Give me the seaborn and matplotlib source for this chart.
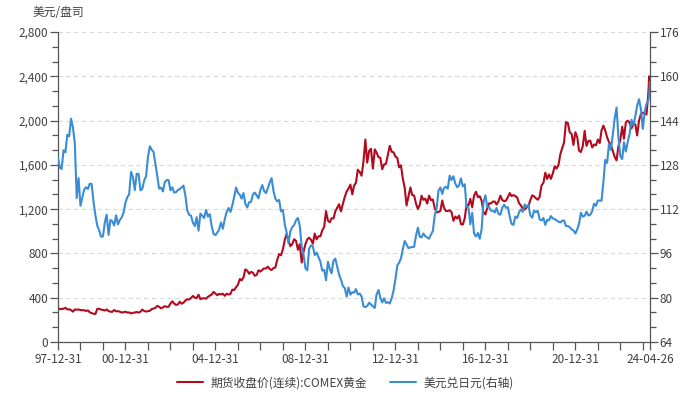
import pandas as pd
import matplotlib.pyplot as plt
from matplotlib.ticker import MultipleLocator, FuncFormatter
import seaborn as sns

# 月末数据 1997-12 ~ 2024-03, 之后补 2024-04-12 和 2024-04-26 两个点
gold = [
    290,
    300, 297, 301, 309, 294, 296, 288, 274, 294, 292, 294, 288,
    288, 287, 280, 286, 268, 261, 255, 254, 299, 300, 292, 290,
    284, 294, 279, 274, 272, 289, 277, 278, 274, 265, 270, 273,
    266, 267, 258, 264, 266, 271, 266, 273, 293, 280, 275, 279,
    282, 297, 302, 309, 326, 318, 304, 313, 324, 317, 318, 348,
    368, 348, 335, 339, 364, 346, 355, 375, 386, 384, 398, 416,
    400, 397, 427, 387, 394, 395, 391, 408, 418, 429, 453, 438,
    422, 435, 429, 436, 417, 436, 429, 434, 473, 470, 495, 518,
    569, 556, 584, 656, 645, 616, 633, 626, 598, 606, 648, 636,
    652, 665, 663, 681, 659, 650, 667, 673, 743, 794, 783, 838,
    923, 975, 917, 865, 885, 928, 914, 833, 884, 718, 816, 884,
    928, 942, 924, 888, 979, 927, 955, 955, 1008, 1040, 1182, 1097,
    1081, 1118, 1115, 1180, 1212, 1244, 1180, 1248, 1309, 1359, 1386, 1421,
    1333, 1411, 1439, 1556, 1536, 1502, 1628, 1829, 1620, 1725, 1746, 1566,
    1740, 1711, 1669, 1664, 1560, 1604, 1610, 1692, 1772, 1719, 1714, 1675,
    1663, 1578, 1596, 1476, 1392, 1234, 1313, 1396, 1327, 1323, 1250, 1202,
    1240, 1321, 1284, 1295, 1250, 1322, 1282, 1287, 1210, 1171, 1175, 1184,
    1278, 1213, 1183, 1183, 1190, 1172, 1095, 1133, 1115, 1142, 1065, 1061,
    1118, 1238, 1233, 1293, 1217, 1322, 1357, 1309, 1317, 1276, 1173, 1152,
    1212, 1252, 1251, 1268, 1269, 1242, 1269, 1322, 1284, 1271, 1277, 1309,
    1345, 1318, 1327, 1319, 1305, 1254, 1233, 1206, 1196, 1215, 1226, 1283,
    1325, 1316, 1298, 1285, 1311, 1413, 1437, 1529, 1473, 1514, 1473, 1523,
    1588, 1567, 1597, 1694, 1751, 1800, 1986, 1978, 1895, 1879, 1780, 1895,
    1850, 1729, 1716, 1768, 1907, 1771, 1817, 1818, 1757, 1784, 1776, 1829,
    1797, 1909, 1954, 1911, 1848, 1807, 1782, 1726, 1672, 1640, 1768, 1826,
    1945, 1836, 1986, 1999, 1982, 1929, 1970, 1966, 1866, 2001, 2057, 2071,
    2067, 2054, 2254,
    2400, 2347,
]

usdjpy = [
    130.5,
    127.0, 126.5, 133.3, 132.5, 138.9, 138.3, 144.7, 141.4, 135.8, 116.0, 123.2, 113.2,
    116.3, 119.0, 119.9, 119.3, 121.2, 121.1, 114.6, 109.7, 106.0, 104.3, 102.0, 102.2,
    107.3, 110.0, 102.7, 108.1, 107.6, 106.1, 109.8, 106.5, 108.1, 109.0, 110.8, 114.4,
    116.4, 117.3, 125.5, 123.6, 118.9, 124.7, 124.8, 118.8, 119.3, 122.4, 123.9, 131.0,
    134.7, 133.5, 132.7, 128.5, 124.0, 119.4, 119.8, 118.4, 121.8, 122.5, 122.5, 118.8,
    119.9, 118.0, 118.1, 118.9, 119.3, 119.8, 120.5, 116.8, 111.5, 110.0, 109.6, 107.1,
    105.9, 109.1, 104.2, 110.4, 109.6, 108.8, 111.7, 109.3, 110.2, 105.8, 103.1, 102.6,
    103.6, 104.6, 107.2, 104.9, 108.4, 110.9, 112.4, 111.0, 113.3, 116.4, 119.8, 117.9,
    117.2, 115.8, 117.8, 113.9, 112.6, 114.5, 114.6, 117.3, 118.0, 116.9, 115.9, 119.0,
    120.7, 118.6, 117.8, 119.5, 121.7, 123.2, 118.6, 115.8, 114.8, 115.3, 111.2, 111.7,
    106.4, 103.6, 99.7, 104.0, 105.5, 106.2, 108.0, 108.8, 106.0, 98.5, 95.5, 90.6,
    89.9, 97.6, 98.9, 98.6, 95.4, 96.3, 94.7, 93.0, 89.8, 90.1, 86.3, 93.0,
    90.3, 88.8, 93.4, 94.1, 91.2, 88.4, 86.5, 84.2, 83.5, 80.4, 83.7, 81.1,
    82.0, 81.8, 83.1, 81.2, 81.5, 80.5, 76.9, 76.6, 77.0, 78.2, 77.6, 76.9,
    76.3, 81.2, 82.8, 80.0, 78.3, 79.8, 78.1, 78.4, 77.9, 79.8, 82.5, 86.7,
    91.7, 92.6, 94.2, 97.5, 100.5, 99.2, 97.9, 98.2, 98.3, 98.4, 102.4, 105.3,
    102.0, 101.8, 103.2, 102.2, 101.8, 101.3, 102.8, 104.1, 109.7, 112.3, 118.7, 119.8,
    117.5, 119.6, 120.1, 119.4, 124.1, 122.5, 123.9, 121.2, 119.9, 120.6, 123.1, 120.2,
    121.0, 112.7, 112.6, 106.5, 110.7, 103.2, 102.1, 103.4, 101.3, 104.8, 114.5, 117.0,
    112.8, 112.8, 111.4, 111.5, 110.8, 112.4, 110.3, 110.0, 112.5, 113.6, 112.5, 112.7,
    109.2, 106.7, 106.3, 109.3, 108.8, 110.8, 111.9, 111.0, 113.7, 112.9, 113.5, 109.7,
    108.9, 111.4, 110.9, 111.4, 108.3, 107.9, 108.8, 106.3, 108.1, 108.0, 109.5, 108.6,
    108.4, 107.9, 107.5, 107.2, 107.8, 107.9, 105.9, 105.9, 105.5, 104.7, 104.3, 103.2,
    104.7, 106.6, 110.7, 109.3, 109.6, 111.1, 109.7, 110.0, 111.3, 114.0, 113.2, 115.1,
    115.1, 115.0, 121.7, 129.8, 128.7, 135.7, 133.3, 138.9, 144.7, 148.7, 138.1, 131.1,
    130.1, 136.2, 132.8, 136.3, 139.3, 144.3, 142.3, 145.5, 149.4, 151.7, 148.2, 141.0,
    147.2, 150.0, 151.3,
    153.2, 158.0,
]

tail_dates = ['2024-04-12', '2024-04-26']

tick_labels = ['97-12-31', '00-12-31', '04-12-31', '08-12-31',
               '12-12-31', '16-12-31', '20-12-31', '24-04-26']

dates = list(pd.date_range('1997-12-31', '2024-03-31', freq='ME')) + [pd.Timestamp(d) for d in tail_dates]
df = pd.DataFrame({'date': dates, 'gold': gold, 'usdjpy': usdjpy})

sns.set_style('white')
plt.rcParams['font.family'] = ['Noto Sans CJK SC', 'DejaVu Sans']

red = '#B00B1E'
blue = '#3A8DD4'
txt = '#404040'
axc = '#555555'

fig = plt.figure(figsize=(6.91, 3.99), dpi=100)
ax = fig.add_axes([58 / 691, 1 - 342 / 399, (650 - 58) / 691, (342 - 32) / 399])
ax2 = ax.twinx()

sns.lineplot(data=df, x='date', y='gold', ax=ax, color=red, linewidth=1.5,
             label='期货收盘价(连续):COMEX黄金', legend=False)
sns.lineplot(data=df, x='date', y='usdjpy', ax=ax2, color=blue, linewidth=1.5,
             label='美元兑日元(右轴)', legend=False)

# 坐标轴范围与刻度
ax.set_xlim(df['date'].iloc[0], df['date'].iloc[-1])
ax.set_ylim(0, 2800)
ax2.set_ylim(64, 176)
ax.yaxis.set_major_locator(MultipleLocator(400))
ax.yaxis.set_minor_locator(MultipleLocator(400 / 3))
ax2.yaxis.set_major_locator(MultipleLocator(16))
ax2.yaxis.set_minor_locator(MultipleLocator(16 / 3))
ax.yaxis.set_major_formatter(FuncFormatter(lambda v, p: f'{v:,.0f}'))

xticks = list(pd.date_range('1997-12-31', '2023-12-31', freq='YE')) + [pd.Timestamp('2024-04-26')]
xlabels = []
for t in xticks:
    s = t.strftime('%y-%m-%d')
    xlabels.append(s if s in tick_labels else '')
ax.set_xticks(xticks)
ax.set_xticklabels(xlabels)

ax.grid(axis='y', color='#d9d9d9', linestyle=(0, (4, 3)), linewidth=0.8)
ax.grid(axis='x', visible=False)
ax2.grid(False)

for a in (ax, ax2):
    a.set_xlabel('')
    a.set_ylabel('')
    a.spines['top'].set_visible(False)
    for s in ('left', 'right', 'bottom'):
        a.spines[s].set_color(axc)
        a.spines[s].set_linewidth(0.9)
ax.spines['right'].set_visible(False)
ax2.spines['left'].set_visible(False)
ax2.spines['bottom'].set_visible(False)

ax.tick_params(axis='both', which='major', direction='out', length=6, width=0.9,
               color=axc, labelsize=8.5, labelcolor=txt, pad=1)
ax.tick_params(axis='y', which='minor', direction='out', length=4, width=0.9,
               color=axc, left=True)
ax.tick_params(axis='x', which='major', bottom=True, pad=2)
ax2.tick_params(axis='y', which='major', direction='out', length=6, width=0.9,
                color=axc, labelsize=8.5, labelcolor=txt, pad=1, right=True)
ax2.tick_params(axis='y', which='minor', direction='out', length=4, width=0.9,
                color=axc, right=True)

fig.text(58 / 691, 1 - 13 / 399, '美元/盘司', ha='center', va='center',
         fontsize=8.5, color=txt)

h1, l1 = ax.get_legend_handles_labels()
h2, l2 = ax2.get_legend_handles_labels()
fig.legend(h1 + h2, l1 + l2, loc='center', bbox_to_anchor=(0.5, 1 - 383 / 399),
           ncol=2, frameon=False, fontsize=8.5, handlelength=2.2,
           columnspacing=2.0, handletextpad=0.6)
for t in fig.legends[0].get_texts():
    t.set_color(txt)

fig.savefig('out.png', dpi=100)
plt.close()
